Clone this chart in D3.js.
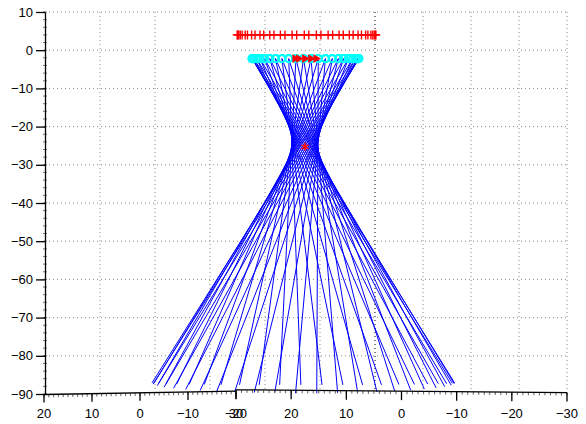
<!DOCTYPE html>
<html><head><meta charset="utf-8">
<script src="https://cdn.jsdelivr.net/npm/d3@7"></script>
<style>body{margin:0;background:#fff}svg{display:block;font-family:"Liberation Sans",Arial,Helvetica,sans-serif}</style>
</head><body>
<script>
// ---- data ----
const yTicks = [10,0,-10,-20,-30,-40,-50,-60,-70,-80,-90];
const axisATicks = [20,10,0,-10,-20];
const axisBTicks = [30,20,10,0,-10,-20,-30];
const gridCols = [0,1,2,3,4,5,6,7,8,9];
const gridRows = [10,0,-10,-20,-30,-40,-50,-60,-70,-80];

// rays: top ring (cyan) to bottom end points
const topY = -2.2;
const topX = [14.6,14.3,13.7,13.0,11.9,10.6,9.2,7.6,5.8,3.9,2.0,0.0,-2.0,-3.9,-5.7,-7.4,-8.9,-10.3,-11.5,-12.4,-13.1,-13.5,
              -13.6,-13.5,-13.1,-12.4,-11.5,-10.3,-8.9,-7.4,-5.7,-3.9,-2.0,0.0,2.0,3.9,5.8,7.6,9.2,10.6,11.9,13.0,13.7,14.3,14.6];
const bottomX = [-38.6,-39.7,-40.0,-39.5,-38.3,-36.3,-33.5,-30.2,-26.2,-21.8,-16.9,-11.7,-6.3,-0.7,4.9,10.4,15.6,20.6,25.2,29.3,32.8,35.6,
                 37.8,39.3,39.9,39.8,39.0,37.3,35.0,31.9,28.3,24.1,19.4,14.3,9.0,3.5,-2.1,-7.6,-13.0,-18.2,-22.9,-27.3,-31.1,-34.3,-36.8];
const bottomY = [-87.8,-87.4,-87.1,-87.2,-87.3,-87.3,-87.4,-87.5,-87.5,-87.6,-87.6,-87.6,-87.6,-87.6,-87.6,-87.6,-87.6,-87.6,-87.5,-87.5,-87.4,-87.3,
                 -87.3,-87.2,-87.1,-87.3,-87.7,-88.1,-88.4,-88.7,-89.0,-89.3,-89.5,-89.6,-89.7,-89.8,-89.8,-89.7,-89.6,-89.5,-89.3,-89.1,-88.8,-88.5,-88.2];

// red ring with + markers
const ringY = 4;
const ringX = [19.1,18.7,17.8,16.4,14.4,12.1,9.4,6.5,3.4,0.2,-3.0,-6.1,-8.9,-11.5,-13.7,-15.4,-16.7,-17.4,
               -17.5,-17.1,-16.2,-14.8,-12.8,-10.5,-7.8,-4.9,-1.8,1.4,4.6,7.7,10.5,13.1,15.3,17.0,18.3,19.0];
// red triangles and focus star
const triX = [-2.3,-1.3,0.3,1.9,3.3];
const triY = -2.2;
const starX = [0.4];
const starY = [-25.3];

// ---- drawing ----
const W = 586, H = 424;
const svg = d3.select("body").append("svg").attr("width", W).attr("height", H);
svg.append("rect").attr("width", W).attr("height", H).attr("fill", "#fff");

const y = d3.scaleLinear().domain([-90, 10]).range([394, 12]);
const sx = d3.scaleLinear().domain([-40, 40]).range([152, 455]);
const gx = d3.scaleLinear().domain([0, 5, 9]).range([100, 375, 567]);
const xA = d3.scaleLinear().domain([20, -20]).range([44, 236]);
const yA = d3.scaleLinear().domain([20, -20]).range([394.5, 391.2]);
const xB = d3.scaleLinear().domain([30, -30]).range([236, 567]);
const yB = d3.scaleLinear().domain([30, -30]).range([389.8, 392.6]);
const xLeft = 45, xRight = 567;

// grid
const grid = svg.append("g");
grid.selectAll("line.h").data(gridRows).join("line")
  .attr("x1", xLeft).attr("x2", xRight).attr("y1", d => y(d)).attr("y2", d => y(d))
  .attr("stroke", "#8a8a8a").attr("stroke-width", 1).attr("stroke-dasharray", "1,3");
grid.selectAll("line.v").data(gridCols).join("line")
  .attr("x1", d => gx(d)).attr("x2", d => gx(d)).attr("y1", y(10)).attr("y2", d => y(-89.5))
  .attr("stroke", d => d === 5 ? "#000" : "#8a8a8a").attr("stroke-width", 1).attr("stroke-dasharray", "1,3");

// rays
const rays = topX.map((t, i) => ({x1: t, y1: topY, x2: bottomX[i], y2: bottomY[i]}));
svg.append("g").selectAll("line").data(rays).join("line")
  .attr("x1", d => sx(d.x1)).attr("y1", d => y(d.y1))
  .attr("x2", d => sx(d.x2)).attr("y2", d => y(d.y2))
  .attr("stroke", "#0000ff").attr("stroke-width", 1);

// cyan circles
svg.append("g").selectAll("circle").data(topX).join("circle")
  .attr("cx", d => sx(d)).attr("cy", y(topY)).attr("r", 3.6)
  .attr("fill", "none").attr("stroke", "#00ffff").attr("stroke-width", 2);

// red triangles
svg.append("g").selectAll("path").data(triX).join("path")
  .attr("d", d3.symbol(d3.symbolTriangle, 32))
  .attr("transform", d => `translate(${sx(d)},${y(triY)}) rotate(90)`)
  .attr("fill", "#ff0000");

// red ring line + markers
svg.append("path").datum(ringX)
  .attr("d", d3.line().x(d => sx(d)).y(() => y(ringY)))
  .attr("fill", "none").attr("stroke", "#ff0000").attr("stroke-width", 1.5);
svg.append("g").selectAll("path").data(ringX).join("path")
  .attr("d", "M-4.5,0H4.5M0,-4.5V4.5")
  .attr("transform", d => `translate(${sx(d)},${y(ringY)})`)
  .attr("stroke", "#ff0000").attr("stroke-width", 1.4).attr("fill", "none");

// star
svg.append("g").selectAll("path").data(starX).join("path")
  .attr("d", d3.symbol(d3.symbolAsterisk, 45))
  .attr("transform", (d, i) => `translate(${sx(d)},${y(starY[i])})`)
  .attr("stroke", "#ff0000").attr("stroke-width", 1.6).attr("fill", "none");

// y axis
const minorY = d3.range(-90, 10.01, 2);
const ya = svg.append("g");
ya.selectAll("line.m").data(minorY).join("line")
  .attr("x1", xLeft - 2).attr("x2", xLeft + 2).attr("y1", d => y(d)).attr("y2", d => y(d))
  .attr("stroke", "#777").attr("stroke-width", 1);
const yAxisG = svg.append("g").attr("transform", `translate(${xLeft},0)`)
  .call(d3.axisLeft(y).tickValues(yTicks).tickSize(9).tickSizeOuter(0).tickPadding(3));
yAxisG.select(".domain").attr("stroke", "#000").attr("stroke-width", 1.3);
yAxisG.selectAll(".tick line").attr("stroke", "#000").attr("stroke-width", 1.3);
yAxisG.selectAll(".tick text").attr("font-size", 13).attr("fill", "#000")
  .attr("font-family", '"Liberation Sans",Arial,sans-serif');

// bottom axis A
const ba = svg.append("g");
ba.selectAll("line.m").data(d3.range(-20, 20.01, 1)).join("line")
  .attr("x1", d => xA(d)).attr("x2", d => xA(d)).attr("y1", d => yA(d)).attr("y2", d => yA(d) + 3)
  .attr("stroke", "#666").attr("stroke-width", 1);
ba.append("line").attr("x1", xA(20)).attr("y1", yA(20)).attr("x2", xA(-20)).attr("y2", yA(-20))
  .attr("stroke", "#000").attr("stroke-width", 1.3);
ba.selectAll("line.t").data(axisATicks).join("line")
  .attr("x1", d => xA(d)).attr("x2", d => xA(d)).attr("y1", d => yA(d)).attr("y2", d => yA(d) + 8)
  .attr("stroke", "#000").attr("stroke-width", 1.3);
ba.selectAll("text").data(axisATicks).join("text")
  .attr("x", d => xA(d)).attr("y", 418).attr("text-anchor", "middle")
  .attr("font-size", 13).text(d => d3.format("")(d));

// bottom axis B
const bb = svg.append("g");
bb.selectAll("line.m").data(d3.range(-30, 30.01, 1)).join("line")
  .attr("x1", d => xB(d)).attr("x2", d => xB(d)).attr("y1", d => yB(d)).attr("y2", d => yB(d) + 3)
  .attr("stroke", "#666").attr("stroke-width", 1);
bb.append("line").attr("x1", xB(30)).attr("y1", yB(30)).attr("x2", xB(-30)).attr("y2", yB(-30))
  .attr("stroke", "#000").attr("stroke-width", 1.3);
bb.selectAll("line.t").data(axisBTicks).join("line")
  .attr("x1", d => xB(d)).attr("x2", d => xB(d)).attr("y1", d => yB(d)).attr("y2", d => yB(d) + 9)
  .attr("stroke", "#000").attr("stroke-width", 1.3);
bb.selectAll("text").data(axisBTicks).join("text")
  .attr("x", d => xB(d)).attr("y", 418).attr("text-anchor", "middle")
  .attr("font-size", 13).text(d => d3.format("")(d));
</script>
</body></html>
